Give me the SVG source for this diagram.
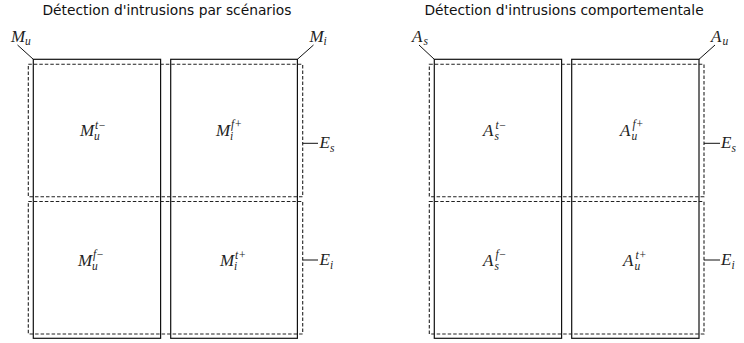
<svg xmlns="http://www.w3.org/2000/svg" width="744" height="343" viewBox="0 0 744 343">
<style>
.title{font-family:"DejaVu Sans","Liberation Sans",sans-serif;font-size:13.8px;fill:#111;text-anchor:middle}
.m{font-family:"Liberation Serif","DejaVu Serif",serif;font-style:italic;font-size:17px;fill:#222}
.s{font-family:"Liberation Serif","DejaVu Serif",serif;font-style:italic;font-size:11.5px;fill:#222}
.solid{fill:none;stroke:#111;stroke-width:1.2}
.dash{fill:none;stroke:#222;stroke-width:1.1;stroke-dasharray:3.5,2}
.ln{fill:none;stroke:#111;stroke-width:1}
</style>
<rect width="744" height="343" fill="#fff"/>
<g id="left">
  <text class="title" x="167" y="15">Détection d'intrusions par scénarios</text>
  <g id="cells-left">
    <rect class="solid" x="33.3" y="59.3" width="127.3" height="279"/>
    <rect class="solid" x="170.7" y="59.3" width="126.7" height="279"/>
    <rect class="dash" x="28.3" y="64.3" width="274.4" height="132.4"/>
    <rect class="dash" x="28.3" y="201.5" width="274.4" height="132.5"/>
  </g>
  <g id="Mu-tm"><text class="m" x="80" y="136">M</text><text class="s" x="94" y="140">u</text><text class="s" x="95" y="129">t−</text></g>
  <g id="Mi-fp"><text class="m" x="216" y="136">M</text><text class="s" x="230" y="140">i</text><text class="s" x="231" y="128">f+</text></g>
  <g id="Mu-fm"><text class="m" x="78" y="266">M</text><text class="s" x="92" y="270">u</text><text class="s" x="93" y="258">f−</text></g>
  <g id="Mi-tp"><text class="m" x="220" y="266">M</text><text class="s" x="234" y="270">i</text><text class="s" x="235" y="259">t+</text></g>
  <g id="Mu"><text class="m" x="11" y="42">M</text><text class="s" x="25" y="45">u</text></g>
  <g id="Mi"><text class="m" x="309.5" y="42">M</text><text class="s" x="323.5" y="45">i</text></g>
  <g id="Es-l"><text class="m" x="319.5" y="148">E</text><text class="s" x="330" y="151.5">s</text></g>
  <g id="Ei-l"><text class="m" x="319.5" y="265">E</text><text class="s" x="330" y="268.5">i</text></g>
</g>
<g id="right">
  <text class="title" x="564" y="15">Détection d'intrusions comportementale</text>
  <g id="cells-right">
    <rect class="solid" x="434.3" y="59.3" width="127.3" height="279"/>
    <rect class="solid" x="571.7" y="59.3" width="127.3" height="279"/>
    <rect class="dash" x="429.3" y="64.3" width="274.7" height="132.4"/>
    <rect class="dash" x="429.3" y="201.5" width="274.7" height="132.5"/>
  </g>
  <g id="As-tm"><text class="m" x="483" y="136">A</text><text class="s" x="494.5" y="140">s</text><text class="s" x="495.5" y="129">t−</text></g>
  <g id="Au-fp"><text class="m" x="620" y="136">A</text><text class="s" x="631.5" y="140">u</text><text class="s" x="632.5" y="128">f+</text></g>
  <g id="As-fm"><text class="m" x="483" y="266">A</text><text class="s" x="494.5" y="270">s</text><text class="s" x="495.5" y="258">f−</text></g>
  <g id="Au-tp"><text class="m" x="623" y="266">A</text><text class="s" x="634.5" y="270">u</text><text class="s" x="635.5" y="259">t+</text></g>
  <g id="As"><text class="m" x="412" y="42">A</text><text class="s" x="423.5" y="45">s</text></g>
  <g id="Au"><text class="m" x="711" y="42">A</text><text class="s" x="722.5" y="45">u</text></g>
  <g id="Es-r"><text class="m" x="721" y="148">E</text><text class="s" x="731.5" y="151.5">s</text></g>
  <g id="Ei-r"><text class="m" x="721" y="265">E</text><text class="s" x="731.5" y="268.5">i</text></g>
</g>
<g id="connectors">
  <line class="ln" x1="17.5" y1="45" x2="33.3" y2="59.3"/>
  <line class="ln" x1="313.5" y1="45" x2="297.4" y2="59.3"/>
  <line class="ln" x1="302.7" y1="143.3" x2="318" y2="143.3"/>
  <line class="ln" x1="302.7" y1="260" x2="318" y2="260"/>
  <line class="ln" x1="419" y1="45" x2="434.3" y2="59.3"/>
  <line class="ln" x1="715" y1="45" x2="699" y2="59.3"/>
  <line class="ln" x1="704" y1="143.3" x2="720" y2="143.3"/>
  <line class="ln" x1="704" y1="260" x2="720" y2="260"/>
</g>
</svg>
